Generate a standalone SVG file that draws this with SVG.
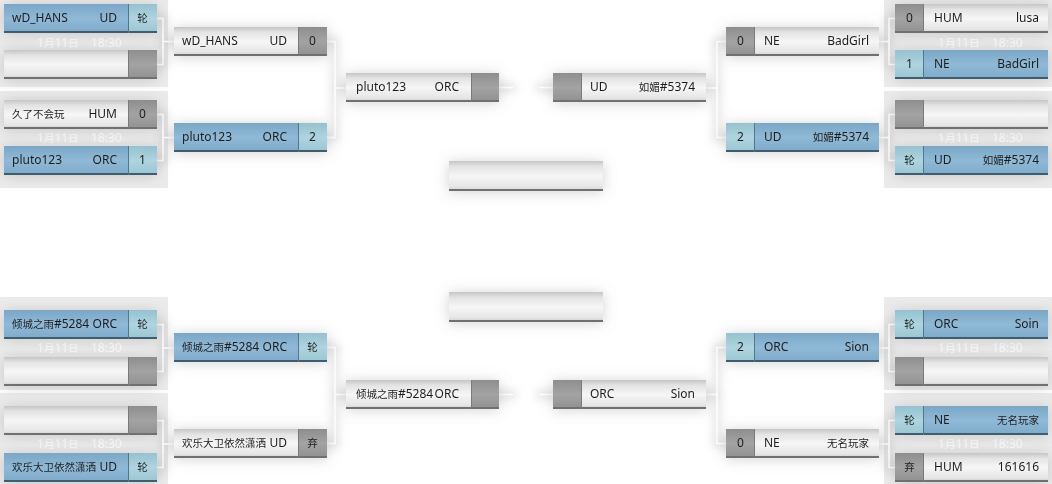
<svg xmlns="http://www.w3.org/2000/svg" width="1052" height="484" viewBox="0 0 1052 484">
<defs>
<linearGradient id="gW" x1="0" y1="0" x2="0" y2="1">
<stop offset="0" stop-color="#c6c6c6"/><stop offset="0.18" stop-color="#e3e3e3"/><stop offset="0.5" stop-color="#f6f6f6"/><stop offset="0.85" stop-color="#e6e6e6"/><stop offset="1" stop-color="#d0d0d0"/>
</linearGradient>
<linearGradient id="gB" x1="0" y1="0" x2="0" y2="1">
<stop offset="0" stop-color="#7ba6c5"/><stop offset="0.5" stop-color="#8fb9d7"/><stop offset="1" stop-color="#7ea9c8"/>
</linearGradient>
<linearGradient id="gSB" x1="0" y1="0" x2="0" y2="1">
<stop offset="0" stop-color="#96c1d0"/><stop offset="0.5" stop-color="#aed4df"/><stop offset="1" stop-color="#9bc5d3"/>
</linearGradient>
<linearGradient id="gSG" x1="0" y1="0" x2="0" y2="1">
<stop offset="0" stop-color="#8e8e8e"/><stop offset="0.5" stop-color="#a3a3a3"/><stop offset="1" stop-color="#909090"/>
</linearGradient>
<filter id="glow" x="-30%" y="-100%" width="160%" height="300%">
<feGaussianBlur in="SourceAlpha" stdDeviation="7" result="b"/>
<feFlood flood-color="#8a8a8a" flood-opacity="0.38"/>
<feComposite in2="b" operator="in" result="s"/>
<feOffset dy="1"/>
<feMerge><feMergeNode/><feMergeNode in="SourceGraphic"/></feMerge>
</filter>
<filter id="lglow" x="-50%" y="-50%" width="200%" height="200%">
<feMorphology in="SourceAlpha" operator="dilate" radius="3" result="d"/>
<feGaussianBlur in="d" stdDeviation="5" result="b"/>
<feFlood flood-color="#bdbdbd" flood-opacity="0.5"/>
<feComposite in2="b" operator="in"/>
<feMerge><feMergeNode/><feMergeNode in="SourceGraphic"/></feMerge>
</filter>
<style>
.mb{fill:url(#gB)} .mw{fill:url(#gW)} .sb{fill:url(#gSB)} .sg{fill:url(#gSG)}
.bb{fill:#405d6f} .bw{fill:#707070}
.sepb{stroke:#52768a;stroke-width:1} .sepw{stroke:#7a7a7a;stroke-width:1}
.panel{fill:#ebebeb}
text{font-family:"Noto Sans","Noto Sans CJK SC",sans-serif;font-size:12px;fill:#1e1e1e}
.c{font-family:"Noto Sans CJK SC",sans-serif;font-size:10.5px}
.e{text-anchor:end} .m{text-anchor:middle}
.date{fill:#ffffff}
.conn{stroke:#ffffff;stroke-width:1.5;fill:none}
</style>
</defs>
<rect width="1052" height="484" fill="#ffffff"/>

<g id="panels">
<rect class="panel" x="0" y="0" width="168" height="87"/>
<rect class="panel" x="0" y="91" width="168" height="97"/>
<rect class="panel" x="0" y="297" width="168" height="93"/>
<rect class="panel" x="0" y="393" width="168" height="91"/>
<rect class="panel" x="884" y="0" width="168" height="87"/>
<rect class="panel" x="884" y="91" width="168" height="97"/>
<rect class="panel" x="884" y="297" width="168" height="93"/>
<rect class="panel" x="884" y="393" width="168" height="91"/>
</g>

<g id="dates">
<text class="date" x="37" y="47"><tspan>1</tspan><tspan class="c">月</tspan><tspan>11</tspan><tspan class="c">日</tspan></text><text class="date" x="91" y="47">18:30</text>
<text class="date" x="37" y="142"><tspan>1</tspan><tspan class="c">月</tspan><tspan>11</tspan><tspan class="c">日</tspan></text><text class="date" x="91" y="142">18:30</text>
<text class="date" x="37" y="352"><tspan>1</tspan><tspan class="c">月</tspan><tspan>11</tspan><tspan class="c">日</tspan></text><text class="date" x="91" y="352">18:30</text>
<text class="date" x="37" y="448"><tspan>1</tspan><tspan class="c">月</tspan><tspan>11</tspan><tspan class="c">日</tspan></text><text class="date" x="91" y="448">18:30</text>
<text class="date" x="938" y="47"><tspan>1</tspan><tspan class="c">月</tspan><tspan>11</tspan><tspan class="c">日</tspan></text><text class="date" x="992" y="47">18:30</text>
<text class="date" x="938" y="142"><tspan>1</tspan><tspan class="c">月</tspan><tspan>11</tspan><tspan class="c">日</tspan></text><text class="date" x="992" y="142">18:30</text>
<text class="date" x="938" y="352"><tspan>1</tspan><tspan class="c">月</tspan><tspan>11</tspan><tspan class="c">日</tspan></text><text class="date" x="992" y="352">18:30</text>
<text class="date" x="938" y="448"><tspan>1</tspan><tspan class="c">月</tspan><tspan>11</tspan><tspan class="c">日</tspan></text><text class="date" x="992" y="448">18:30</text>
</g>

<g id="connectors" class="conn" filter="url(#lglow)">
<path d="M157,18.5 H163 V64.5 H157 M163,41.5 H174"/>
<path d="M157,114.5 H163 V160.5 H157 M163,137.5 H174"/>
<path d="M326,41.5 H335 V137.5 H326 M335,88 H346"/>
<path d="M499,87.5 H513 M539,87.5 H553"/>
<path d="M157,324.5 H163 V371.5 H157 M163,348 H174"/>
<path d="M157,420.5 H163 V467.5 H157 M163,444 H174"/>
<path d="M326,347.5 H335 V443.5 H326 M335,394.5 H346"/>
<path d="M499,394.5 H513 M539,394.5 H553"/>
<path d="M895,18.5 H889 V64.5 H895 M889,41.5 H878"/>
<path d="M895,114.5 H889 V160.5 H895 M889,137.5 H878"/>
<path d="M726,41.5 H717 V137.5 H726 M717,88 H706"/>
<path d="M895,324.5 H889 V371.5 H895 M889,348 H878"/>
<path d="M895,420.5 H889 V467.5 H895 M889,444 H878"/>
<path d="M726,347.5 H717 V443.5 H726 M717,394.5 H706"/>
</g>

<!-- LEFT TOP ROUND 1 -->
<g id="l1a" transform="translate(4,4)" filter="url(#glow)">
<rect class="mb" width="124" height="29"/><rect class="sb" x="124" width="29" height="29"/><rect class="bb" y="27" width="153" height="2"/><line class="sepb" x1="124.5" y1="0" x2="124.5" y2="29"/>
<text x="8" y="18">wD_HANS</text><text class="e" x="113" y="18">UD</text><text class="m" x="138.5" y="18"><tspan class="c">轮</tspan></text>
</g>
<g id="l1b" transform="translate(4,50)" filter="url(#glow)">
<rect class="mw" width="124" height="29"/><rect class="sg" x="124" width="29" height="29"/><rect class="bw" y="27" width="153" height="2"/><line class="sepw" x1="124.5" y1="0" x2="124.5" y2="29"/>
</g>
<g id="l2a" transform="translate(4,100)" filter="url(#glow)">
<rect class="mw" width="124" height="29"/><rect class="sg" x="124" width="29" height="29"/><rect class="bw" y="27" width="153" height="2"/><line class="sepw" x1="124.5" y1="0" x2="124.5" y2="29"/>
<text x="8" y="18"><tspan class="c">久了不会玩</tspan></text><text class="e" x="113" y="18">HUM</text><text class="m" x="138.5" y="18">0</text>
</g>
<g id="l2b" transform="translate(4,146)" filter="url(#glow)">
<rect class="mb" width="124" height="29"/><rect class="sb" x="124" width="29" height="29"/><rect class="bb" y="27" width="153" height="2"/><line class="sepb" x1="124.5" y1="0" x2="124.5" y2="29"/>
<text x="8" y="18">pluto123</text><text class="e" x="113" y="18">ORC</text><text class="m" x="138.5" y="18">1</text>
</g>

<!-- LEFT TOP ROUND 2 -->
<g id="l5a" transform="translate(174,27)" filter="url(#glow)">
<rect class="mw" width="124" height="29"/><rect class="sg" x="124" width="29" height="29"/><rect class="bw" y="27" width="153" height="2"/><line class="sepw" x1="124.5" y1="0" x2="124.5" y2="29"/>
<text x="8" y="18">wD_HANS</text><text class="e" x="113" y="18">UD</text><text class="m" x="138.5" y="18">0</text>
</g>
<g id="l5b" transform="translate(174,123)" filter="url(#glow)">
<rect class="mb" width="124" height="29"/><rect class="sb" x="124" width="29" height="29"/><rect class="bb" y="27" width="153" height="2"/><line class="sepb" x1="124.5" y1="0" x2="124.5" y2="29"/>
<text x="8" y="18">pluto123</text><text class="e" x="113" y="18">ORC</text><text class="m" x="138.5" y="18">2</text>
</g>

<!-- LEFT TOP ROUND 3 -->
<g id="l7" transform="translate(346,73)" filter="url(#glow)">
<rect class="mw" width="125" height="29"/><rect class="sg" x="125" width="28" height="29"/><rect class="bw" y="27" width="153" height="2"/><line class="sepw" x1="125.5" y1="0" x2="125.5" y2="29"/>
<text x="10" y="18">pluto123</text><text class="e" x="113" y="18">ORC</text>
</g>

<!-- RIGHT TOP ROUND 3 -->
<g id="r7" transform="translate(553,73)" filter="url(#glow)">
<rect class="mw" x="28" width="125" height="29"/><rect class="sg" width="28" height="29"/><rect class="bw" y="27" width="153" height="2"/><line class="sepw" x1="28.5" y1="0" x2="28.5" y2="29"/>
<text x="37" y="18">UD</text><text class="e" x="142" y="18"><tspan class="c">如媚</tspan>#5374</text>
</g>

<!-- RIGHT TOP ROUND 2 -->
<g id="r5a" transform="translate(726,27)" filter="url(#glow)">
<rect class="mw" x="29" width="124" height="29"/><rect class="sg" width="29" height="29"/><rect class="bw" y="27" width="153" height="2"/><line class="sepw" x1="28.5" y1="0" x2="28.5" y2="29"/>
<text class="m" x="14.5" y="18">0</text><text x="38" y="18">NE</text><text class="e" x="143" y="18">BadGirl</text>
</g>
<g id="r5b" transform="translate(726,123)" filter="url(#glow)">
<rect class="mb" x="29" width="124" height="29"/><rect class="sb" width="29" height="29"/><rect class="bb" y="27" width="153" height="2"/><line class="sepb" x1="28.5" y1="0" x2="28.5" y2="29"/>
<text class="m" x="14.5" y="18">2</text><text x="38" y="18">UD</text><text class="e" x="143" y="18"><tspan class="c">如媚</tspan>#5374</text>
</g>

<!-- RIGHT TOP ROUND 1 -->
<g id="r1a" transform="translate(895,4)" filter="url(#glow)">
<rect class="mw" x="29" width="124" height="29"/><rect class="sg" width="29" height="29"/><rect class="bw" y="27" width="153" height="2"/><line class="sepw" x1="28.5" y1="0" x2="28.5" y2="29"/>
<text class="m" x="14.5" y="18">0</text><text x="39" y="18">HUM</text><text class="e" x="144" y="18">lusa</text>
</g>
<g id="r1b" transform="translate(895,50)" filter="url(#glow)">
<rect class="mb" x="29" width="124" height="29"/><rect class="sb" width="29" height="29"/><rect class="bb" y="27" width="153" height="2"/><line class="sepb" x1="28.5" y1="0" x2="28.5" y2="29"/>
<text class="m" x="14.5" y="18">1</text><text x="39" y="18">NE</text><text class="e" x="144" y="18">BadGirl</text>
</g>
<g id="r2a" transform="translate(895,100)" filter="url(#glow)">
<rect class="mw" x="29" width="124" height="29"/><rect class="sg" width="29" height="29"/><rect class="bw" y="27" width="153" height="2"/><line class="sepw" x1="28.5" y1="0" x2="28.5" y2="29"/>
</g>
<g id="r2b" transform="translate(895,146)" filter="url(#glow)">
<rect class="mb" x="29" width="124" height="29"/><rect class="sb" width="29" height="29"/><rect class="bb" y="27" width="153" height="2"/><line class="sepb" x1="28.5" y1="0" x2="28.5" y2="29"/>
<text class="m" x="14.5" y="18"><tspan class="c">轮</tspan></text><text x="39" y="18">UD</text><text class="e" x="144" y="18"><tspan class="c">如媚</tspan>#5374</text>
</g>

<!-- CENTER -->
<g id="final-top" transform="translate(449,161)" filter="url(#glow)">
<rect class="mw" width="154" height="30"/><rect class="bw" y="28" width="154" height="2"/>
</g>
<g id="final-bottom" transform="translate(449,292)" filter="url(#glow)">
<rect class="mw" width="154" height="30"/><rect class="bw" y="28" width="154" height="2"/>
</g>

<!-- LEFT BOTTOM ROUND 1 -->
<g id="l3a" transform="translate(4,310)" filter="url(#glow)">
<rect class="mb" width="124" height="29"/><rect class="sb" x="124" width="29" height="29"/><rect class="bb" y="27" width="153" height="2"/><line class="sepb" x1="124.5" y1="0" x2="124.5" y2="29"/>
<text x="8" y="18"><tspan class="c">倾城之雨</tspan>#5284</text><text class="e" x="113" y="18">ORC</text><text class="m" x="138.5" y="18"><tspan class="c">轮</tspan></text>
</g>
<g id="l3b" transform="translate(4,357)" filter="url(#glow)">
<rect class="mw" width="124" height="29"/><rect class="sg" x="124" width="29" height="29"/><rect class="bw" y="27" width="153" height="2"/><line class="sepw" x1="124.5" y1="0" x2="124.5" y2="29"/>
</g>
<g id="l4a" transform="translate(4,406)" filter="url(#glow)">
<rect class="mw" width="124" height="29"/><rect class="sg" x="124" width="29" height="29"/><rect class="bw" y="27" width="153" height="2"/><line class="sepw" x1="124.5" y1="0" x2="124.5" y2="29"/>
</g>
<g id="l4b" transform="translate(4,453)" filter="url(#glow)">
<rect class="mb" width="124" height="29"/><rect class="sb" x="124" width="29" height="29"/><rect class="bb" y="27" width="153" height="2"/><line class="sepb" x1="124.5" y1="0" x2="124.5" y2="29"/>
<text x="8" y="18"><tspan class="c">欢乐大卫依然潇洒</tspan></text><text class="e" x="113" y="18">UD</text><text class="m" x="138.5" y="18"><tspan class="c">轮</tspan></text>
</g>

<!-- LEFT BOTTOM ROUND 2 -->
<g id="l6a" transform="translate(174,333)" filter="url(#glow)">
<rect class="mb" width="124" height="29"/><rect class="sb" x="124" width="29" height="29"/><rect class="bb" y="27" width="153" height="2"/><line class="sepb" x1="124.5" y1="0" x2="124.5" y2="29"/>
<text x="8" y="18"><tspan class="c">倾城之雨</tspan>#5284</text><text class="e" x="113" y="18">ORC</text><text class="m" x="138.5" y="18"><tspan class="c">轮</tspan></text>
</g>
<g id="l6b" transform="translate(174,429)" filter="url(#glow)">
<rect class="mw" width="124" height="29"/><rect class="sg" x="124" width="29" height="29"/><rect class="bw" y="27" width="153" height="2"/><line class="sepw" x1="124.5" y1="0" x2="124.5" y2="29"/>
<text x="8" y="18"><tspan class="c">欢乐大卫依然潇洒</tspan></text><text class="e" x="113" y="18">UD</text><text class="m" x="138.5" y="18"><tspan class="c">弃</tspan></text>
</g>

<!-- LEFT BOTTOM ROUND 3 -->
<g id="l8" transform="translate(346,380)" filter="url(#glow)">
<rect class="mw" width="125" height="29"/><rect class="sg" x="125" width="28" height="29"/><rect class="bw" y="27" width="153" height="2"/><line class="sepw" x1="125.5" y1="0" x2="125.5" y2="29"/>
<text x="10" y="18"><tspan class="c">倾城之雨</tspan>#5284</text><text class="e" x="113" y="18">ORC</text>
</g>

<!-- RIGHT BOTTOM ROUND 3 -->
<g id="r8" transform="translate(553,380)" filter="url(#glow)">
<rect class="mw" x="28" width="125" height="29"/><rect class="sg" width="28" height="29"/><rect class="bw" y="27" width="153" height="2"/><line class="sepw" x1="28.5" y1="0" x2="28.5" y2="29"/>
<text x="37" y="18">ORC</text><text class="e" x="142" y="18">Sion</text>
</g>

<!-- RIGHT BOTTOM ROUND 2 -->
<g id="r6a" transform="translate(726,333)" filter="url(#glow)">
<rect class="mb" x="29" width="124" height="29"/><rect class="sb" width="29" height="29"/><rect class="bb" y="27" width="153" height="2"/><line class="sepb" x1="28.5" y1="0" x2="28.5" y2="29"/>
<text class="m" x="14.5" y="18">2</text><text x="38" y="18">ORC</text><text class="e" x="143" y="18">Sion</text>
</g>
<g id="r6b" transform="translate(726,429)" filter="url(#glow)">
<rect class="mw" x="29" width="124" height="29"/><rect class="sg" width="29" height="29"/><rect class="bw" y="27" width="153" height="2"/><line class="sepw" x1="28.5" y1="0" x2="28.5" y2="29"/>
<text class="m" x="14.5" y="18">0</text><text x="38" y="18">NE</text><text class="e" x="143" y="18"><tspan class="c">无名玩家</tspan></text>
</g>

<!-- RIGHT BOTTOM ROUND 1 -->
<g id="r3a" transform="translate(895,310)" filter="url(#glow)">
<rect class="mb" x="29" width="124" height="29"/><rect class="sb" width="29" height="29"/><rect class="bb" y="27" width="153" height="2"/><line class="sepb" x1="28.5" y1="0" x2="28.5" y2="29"/>
<text class="m" x="14.5" y="18"><tspan class="c">轮</tspan></text><text x="39" y="18">ORC</text><text class="e" x="144" y="18">Soin</text>
</g>
<g id="r3b" transform="translate(895,357)" filter="url(#glow)">
<rect class="mw" x="29" width="124" height="29"/><rect class="sg" width="29" height="29"/><rect class="bw" y="27" width="153" height="2"/><line class="sepw" x1="28.5" y1="0" x2="28.5" y2="29"/>
</g>
<g id="r4a" transform="translate(895,406)" filter="url(#glow)">
<rect class="mb" x="29" width="124" height="29"/><rect class="sb" width="29" height="29"/><rect class="bb" y="27" width="153" height="2"/><line class="sepb" x1="28.5" y1="0" x2="28.5" y2="29"/>
<text class="m" x="14.5" y="18"><tspan class="c">轮</tspan></text><text x="39" y="18">NE</text><text class="e" x="144" y="18"><tspan class="c">无名玩家</tspan></text>
</g>
<g id="r4b" transform="translate(895,453)" filter="url(#glow)">
<rect class="mw" x="29" width="124" height="29"/><rect class="sg" width="29" height="29"/><rect class="bw" y="27" width="153" height="2"/><line class="sepw" x1="28.5" y1="0" x2="28.5" y2="29"/>
<text class="m" x="14.5" y="18"><tspan class="c">弃</tspan></text><text x="39" y="18">HUM</text><text class="e" x="144" y="18">161616</text>
</g>
</svg>
